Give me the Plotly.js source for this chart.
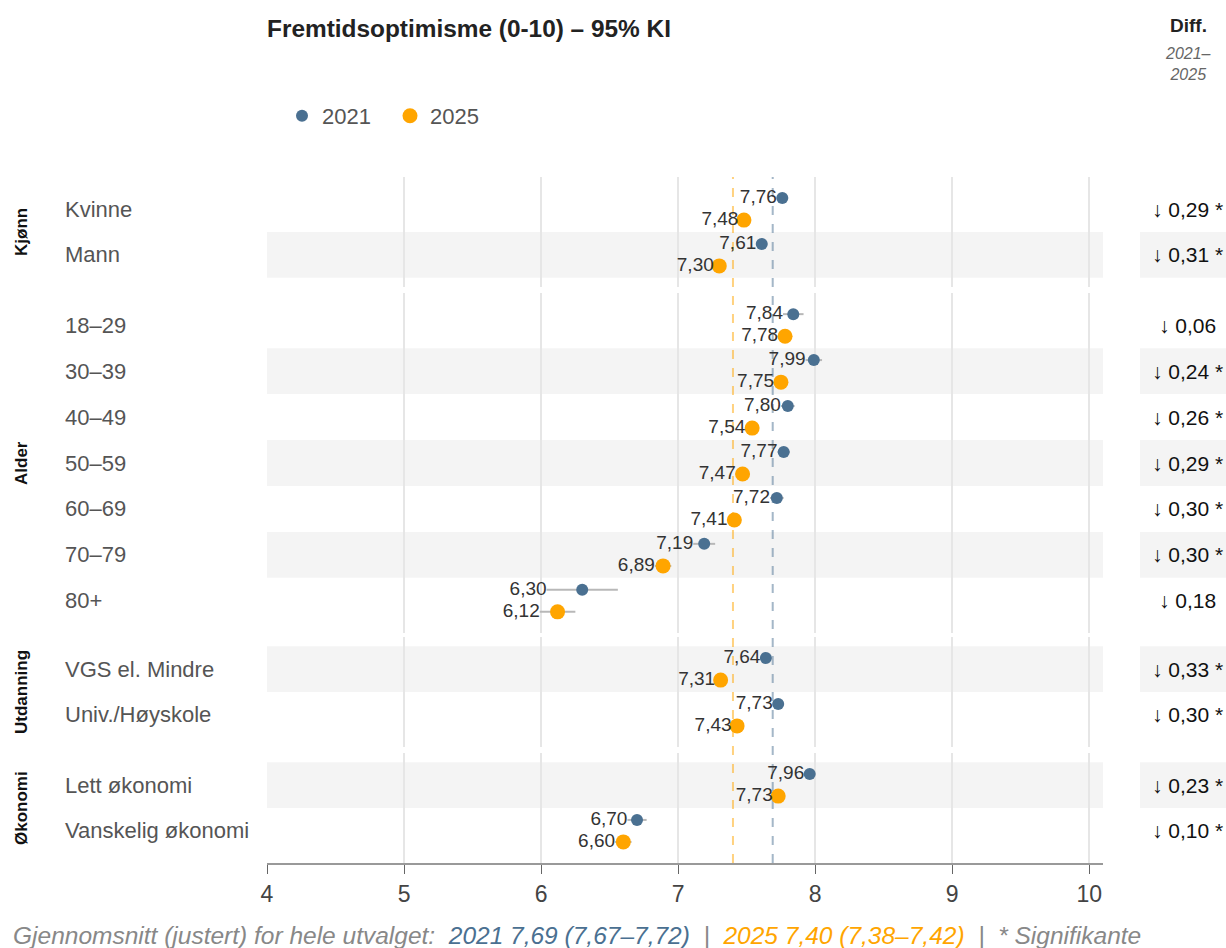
<!DOCTYPE html>
<html>
<head>
<meta charset="utf-8">
<script src="https://cdn.plot.ly/plotly-3.0.1.min.js"></script>
<style>
html,body{margin:0;padding:0;background:#fff;}
#chart{width:1226px;height:948px;}
</style>
</head>
<body>
<div id="chart"></div>
<script>
// ---------------- DATA ----------------
const categories = ['Kvinne','Mann','18–29','30–39','40–49','50–59','60–69','70–79','80+','VGS el. Mindre','Univ./Høyskole','Lett økonomi','Vanskelig økonomi'];
const groups = ['Kjønn','Alder','Utdanning','Økonomi'];
const groupOf = [0,0,1,1,1,1,1,1,1,2,2,3,3];
const mean2021 = [7.76,7.61,7.84,7.99,7.80,7.77,7.72,7.19,6.30,7.64,7.73,7.96,6.70];
const ci2021   = [0.04,0.04,0.075,0.06,0.05,0.045,0.05,0.08,0.26,0.04,0.04,0.04,0.07];
const mean2025 = [7.48,7.30,7.78,7.75,7.54,7.47,7.41,6.89,6.12,7.31,7.43,7.73,6.60];
const ci2025   = [0.04,0.04,0.05,0.05,0.05,0.05,0.05,0.06,0.13,0.04,0.04,0.04,0.06];
const diffVals = [0.29,0.31,0.06,0.24,0.26,0.29,0.30,0.30,0.18,0.33,0.30,0.23,0.10];
const diffSig  = [true,true,false,true,true,true,true,true,false,true,true,true,true];
const overall2021 = 7.69, overall2021Lo = 7.67, overall2021Hi = 7.72;
const overall2025 = 7.40, overall2025Lo = 7.38, overall2025Hi = 7.42;
const xTicks = [4,5,6,7,8,9,10];
const years = ['2021','2025'];

// ---------------- STYLE / LAYOUT CONSTANTS ----------------
const FONT = 'Liberation Sans, Arial, Helvetica, sans-serif';
const C21 = '#4a7091', C25 = '#FFA500';
const W = 1226, H = 948;
const mL = 267, mR = 123, mT = 177, mB = 85;
const plotH = H - mT - mB, plotW = W - mL - mR;
const panelPx = [[177,287],[293,633],[637,747],[753,863]];
const py = px => (H - mB - px) / plotH;           // pixel y -> paper
const pxX = px => (px - mL) / plotW;             // pixel x -> paper
const yNames = ['y','y2','y3','y4'];
const off = 0.24;
const fmt = v => v.toFixed(2).replace('.', ',');

// row index within its panel
const rowIdx = [];
const counts = [0,0,0,0];
groupOf.forEach((g,i)=>{ rowIdx.push(counts[g]); counts[g]++; });

const traces = [];
const shapes = [];
const annotations = [];

groups.forEach((g, gi) => {
  const idx = groupOf.map((gg,i)=> gg===gi ? i : -1).filter(i=>i>=0);
  const yref = yNames[gi];
  [[mean2021,ci2021,C21,12,-off,'2021'],[mean2025,ci2025,C25,15,off,'2025']].forEach(([m,ci,col,sz,o,yr]) => {
    traces.push({
      type:'scatter', mode:'markers', name: yr, legendgroup: yr,
      showlegend: gi===0,
      x: idx.map(i=>m[i]), y: idx.map(i=>rowIdx[i]+o),
      yaxis: yref, xaxis:'x',
      marker:{color:col, size:sz},
      error_x:{type:'data', symmetric:true, array: idx.map(i=>ci[i]), color:'#b8b8b8', thickness:2, width:0},
      hoverinfo:'skip', cliponaxis:false
    });
    traces.push({
      type:'scatter', mode:'text', showlegend:false,
      x: idx.map(i=>m[i]-ci[i]), y: idx.map(i=>rowIdx[i]+o),
      yaxis: yref, xaxis:'x',
      text: idx.map(i=>fmt(m[i])), textposition:'middle left',
      textfont:{family:FONT, size:19, color:'#333'},
      hoverinfo:'skip', cliponaxis:false
    });
  });
  // group label
  annotations.push({
    xref:'paper', yref: yref+' domain', x: pxX(21), y:0.5, xanchor:'center', yanchor:'middle',
    text:'<b>'+g+'</b>', textangle:-90, showarrow:false,
    font:{family:FONT, size:17, color:'#111'}
  });
});

categories.forEach((c,i) => {
  const yref = yNames[groupOf[i]];
  const r = rowIdx[i];
  annotations.push({
    xref:'paper', yref:yref, x:pxX(63), y:r, xanchor:'left', yanchor:'middle',
    text:c, showarrow:false, font:{family:FONT, size:22, color:'#555'}
  });
  annotations.push({
    xref:'paper', yref:yref, x:pxX(1187), y:r, xanchor:'center', yanchor:'middle',
    text:'↓ ' + fmt(diffVals[i]) + (diffSig[i] ? ' *' : ''), showarrow:false,
    font:{family:FONT, size:21, color:'#111'}
  });
  if (i % 2 === 1) {
    shapes.push({type:'rect', xref:'x domain', yref:yref, x0:0, x1:1, y0:r-0.5, y1:r+0.5,
      fillcolor:'#f4f4f4', line:{width:0}, layer:'below'});
    shapes.push({type:'rect', xref:'paper', yref:yref, x0:pxX(1140), x1:pxX(1226), y0:r-0.5, y1:r+0.5,
      fillcolor:'#f4f4f4', line:{width:0}, layer:'below'});
  }
});

// overall mean lines
shapes.push({type:'line', xref:'x', yref:'paper', x0:overall2021, x1:overall2021, y0:0, y1:1,
  line:{color:'rgba(74,112,145,0.5)', width:2, dash:'dash'}, layer:'between'});
shapes.push({type:'line', xref:'x', yref:'paper', x0:overall2025, x1:overall2025, y0:0, y1:1,
  line:{color:'rgba(255,165,0,0.5)', width:2, dash:'dash'}, layer:'between'});

// header + footer
annotations.push({xref:'paper', yref:'paper', x:pxX(1188), y:py(26), xanchor:'center', yanchor:'middle',
  text:'<b>Diff.</b>', showarrow:false, font:{family:FONT, size:19, color:'#222'}});
annotations.push({xref:'paper', yref:'paper', x:pxX(1188), y:py(64), xanchor:'center', yanchor:'middle',
  text:'<i>2021–<br>2025</i>', showarrow:false, font:{family:FONT, size:16, color:'#666'}});
annotations.push({xref:'paper', yref:'paper', x:pxX(11), y:py(935), xanchor:'left', yanchor:'middle',
  showarrow:false, font:{family:FONT, size:24.5, color:'#888'},
  text:'<i>Gjennomsnitt (justert) for hele utvalget:  <span style="color:'+C21+'">2021 '+fmt(overall2021)+' ('+fmt(overall2021Lo)+'–'+fmt(overall2021Hi)+')</span>  |  <span style="color:'+C25+'">2025 '+fmt(overall2025)+' ('+fmt(overall2025Lo)+'–'+fmt(overall2025Hi)+')</span>  |  * Signifikante</i>'});

const layout = {
  width:W, height:H,
  margin:{l:mL, r:mR, t:mT, b:mB},
  paper_bgcolor:'#fff', plot_bgcolor:'rgba(0,0,0,0)',
  font:{family:FONT, color:'#333'},
  title:{text:'<b>Fremtidsoptimisme (0-10) – 95% KI</b>', xref:'paper', x:0, xanchor:'left',
    yref:'container', y:1-28/H, yanchor:'middle', font:{family:FONT, size:24.4, color:'#222'}},
  showlegend:true,
  legend:{orientation:'h', x:pxX(282), xanchor:'left', y:py(116), yanchor:'middle',
    font:{family:FONT, size:22, color:'#555'}, itemsizing:'trace', bgcolor:'rgba(0,0,0,0)',
    entrywidth:63, entrywidthmode:'pixels'},
  hovermode:false,
  xaxis:{range:[4,10.1], tickvals:xTicks, ticktext:xTicks.map(String), anchor:'y4',
    showgrid:true, gridcolor:'#e6e6e6', gridwidth:2, zeroline:false,
    showline:true, linecolor:'#999', linewidth:2, ticks:'outside', ticklen:9, tickcolor:'#666', tickwidth:1,
    tickfont:{family:FONT, size:23, color:'#444'}, fixedrange:true},
  shapes: shapes,
  annotations: annotations
};
groups.forEach((g,gi)=>{
  const n = counts[gi];
  const key = gi===0 ? 'yaxis' : 'yaxis'+(gi+1);
  layout[key] = {domain:[py(panelPx[gi][1]), py(panelPx[gi][0])], range:[n-0.3,-0.7],
    anchor:'x', showgrid:false, zeroline:false, showticklabels:false, ticks:'', showline:false, fixedrange:true};
});

Plotly.newPlot('chart', traces, layout, {displayModeBar:false, staticPlot:true});
</script>
</body>
</html>
